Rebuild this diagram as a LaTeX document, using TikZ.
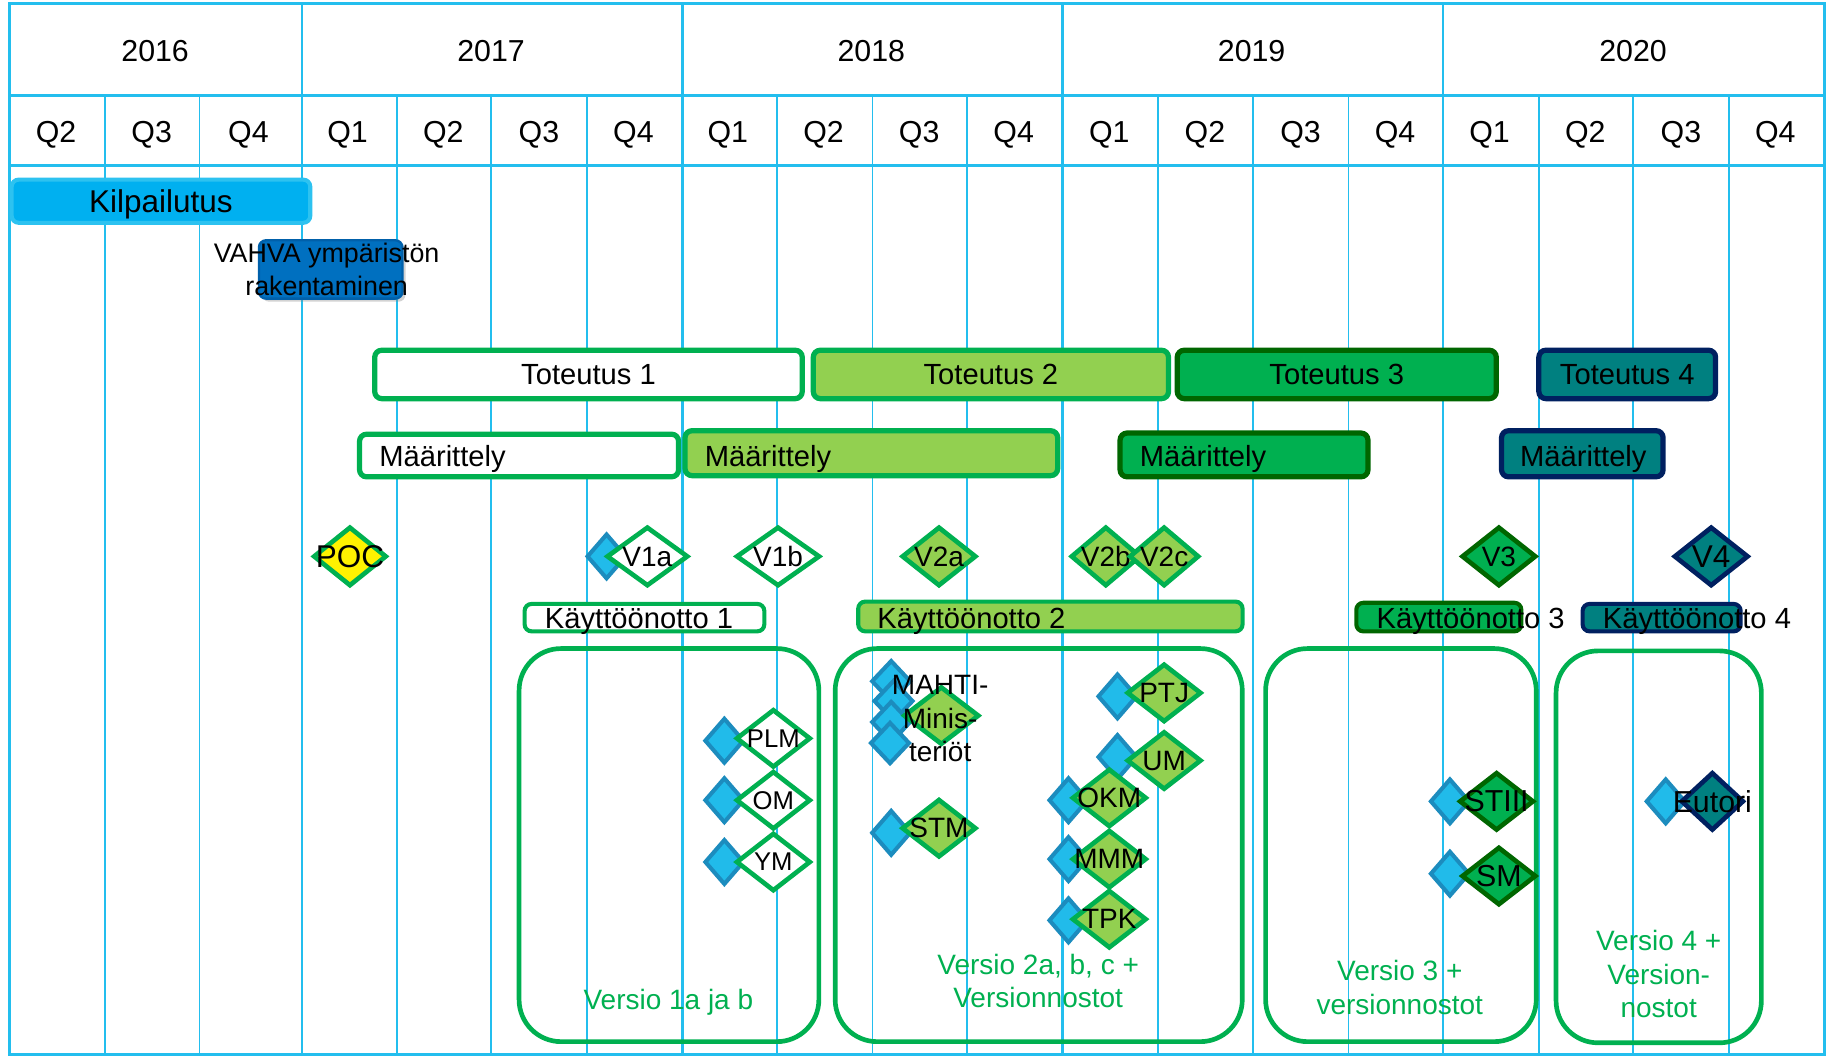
\documentclass[tikz,border=0pt]{standalone}
\usepackage{fontspec}
\setmainfont{Liberation Sans}
\usetikzlibrary{shapes.geometric,shadows}

\definecolor{gridblue}{RGB}{35,190,238}
\definecolor{kilblue}{RGB}{0,176,240}
\definecolor{kilrim}{RGB}{45,194,240}
\definecolor{vahvablue}{RGB}{0,112,192}
\definecolor{vahvarim}{RGB}{0,96,170}
\definecolor{grn}{RGB}{0,176,80}
\definecolor{lgrn}{RGB}{146,208,80}
\definecolor{dgrn}{RGB}{0,102,0}
\definecolor{tealc}{RGB}{0,128,128}
\definecolor{navyc}{RGB}{0,32,96}
\definecolor{msblue}{RGB}{33,187,234}
\definecolor{msrim}{RGB}{28,140,190}

\newcommand{\gm}[1]{\makebox[0pt]{#1}}

\tikzset{
  t22/.style={font=\fontsize{22}{27}\selectfont, text depth=0pt},
  t24/.style={font=\fontsize{24}{29}\selectfont, text depth=0pt},
  t25/.style={font=\fontsize{25}{29}\selectfont, text depth=0pt},
  t26/.style={font=\fontsize{26}{29}\selectfont, text depth=0pt},
  t27/.style={font=\fontsize{27}{29}\selectfont, text depth=0pt},
  bar/.style={draw, rounded corners=6pt, line width=4.5pt, inner sep=0pt},
  kbar/.style={bar, line width=3.5pt},
  v1/.style={fill=white, draw=grn},
  v2/.style={fill=lgrn, draw=grn},
  v3/.style={fill=grn, draw=dgrn},
  v4/.style={fill=tealc, draw=navyc},
  gem/.style={diamond, line width=4pt, inner sep=0pt, minimum width=64pt, minimum height=51pt, t24},
  mgem/.style={gem, minimum width=64pt, minimum height=50pt},
  bluegem/.style={diamond, fill=msblue, draw=msrim, line width=3.5pt, inner sep=0pt, minimum width=34pt, minimum height=39pt},
  lbl/.style={inner sep=0pt, anchor=west, t25},
  vbox/.style={draw=grn, line width=4pt, rounded corners=36pt, inner sep=0pt},
  vtxt/.style={inner sep=0pt, text=grn, align=center, font=\fontsize{24}{29}\selectfont}
}

\begin{document}
\begin{tikzpicture}[x=1pt,y=-1pt,
  gline/.style={draw=gridblue,line width=1.6pt},
  hline/.style={draw=gridblue,line width=2.2pt}]
\useasboundingbox (0,0) rectangle (1568,905);

% grid
\foreach \x in {90,171,340,421,503,666,748,829,993,1074,1156,1319,1400,1482}
  \draw[gline] (\x,82) -- (\x,904);
\foreach \x in {259,585,911,1237}
  \draw[hline] (\x,3) -- (\x,904);
\draw[hline] (8,82) -- (1564,82);
\draw[hline] (8,142) -- (1564,142);
\draw[hline] (8,3) rectangle (1564,904);

% years and quarters
\node[t26] (y16) at (133,44) {2016};
\node[t26] (y17) at (421,44) {2017};
\node[t26] (y18) at (747,44) {2018};
\node[t26] (y19) at (1073,44) {2019};
\node[t26] (y20) at (1400,44) {2020};
\foreach \x/\q [count=\i] in {48/Q2,130/Q3,213/Q4,298/Q1,380/Q2,462/Q3,543/Q4,624/Q1,706/Q2,788/Q3,869/Q4,951/Q1,1033/Q2,1115/Q3,1196/Q4,1277/Q1,1359/Q2,1441/Q3,1522/Q4}
  \node[t26] (q\i) at (\x,113) {\q};

% version boxes
\node[vbox, minimum width=257pt, minimum height=337pt] (B1) at (573.5,724.5) {};
\node[vbox, minimum width=349pt, minimum height=337pt] (B2) at (890.5,724.5) {};
\node[vbox, minimum width=232pt, minimum height=337pt] (B3) at (1201,724.5) {};
\node[vbox, minimum width=176pt, minimum height=336pt] (B4) at (1422,726) {};

% bars
\node[bar, fill=kilblue, draw=kilrim, line width=3.5pt, minimum width=256pt, minimum height=37pt, t27] (kil) at (138,172.5) {Kilpailutus};
\node[bar, fill=vahvablue, draw=vahvarim, line width=2pt, drop shadow={opacity=0.35}, minimum width=123pt, minimum height=50pt] (vahva) at (283.5,231) {};
\node[inner sep=0pt, align=center, font=\fontsize{23}{28}\selectfont] (vahvaT) at (280,231) {VAHVA ympäristön\\rakentaminen};

\node[bar, v1, minimum width=366.5pt, minimum height=41.5pt, t25] (T1) at (504.5,321) {Toteutus 1};
\node[bar, v2, minimum width=304.5pt, minimum height=41.5pt, t25] (T2) at (849.5,321) {Toteutus 2};
\node[bar, v3, minimum width=273.5pt, minimum height=41.5pt, t25] (T3) at (1146,321) {Toteutus 3};
\node[bar, v4, minimum width=151.5pt, minimum height=41.5pt, t25] (T4) at (1395,321) {Toteutus 4};

\node[bar, v1, minimum width=273.5pt, minimum height=36.5pt] (M1) at (445,390.5) {};
\node[bar, v2, minimum width=319.5pt, minimum height=38.5pt] (M2) at (747,388.5) {};
\node[bar, v3, minimum width=212.5pt, minimum height=37.5pt] (M3) at (1066.5,390) {};
\node[bar, v4, minimum width=138.5pt, minimum height=39.5pt] (M4) at (1356.5,389) {};
\node[lbl] (M1T) at (325,391) {Määrittely};
\node[lbl] (M2T) at (604,391) {Määrittely};
\node[lbl] (M3T) at (977,391) {Määrittely};
\node[lbl] (M4T) at (1303,391) {Määrittely};

\node[kbar, v1, minimum width=205.5pt, minimum height=23.5pt] (K1) at (552.5,529.5) {};
\node[kbar, v2, minimum width=329.5pt, minimum height=25.5pt] (K2) at (900.5,528.5) {};
\node[kbar, v3, minimum width=141.5pt, minimum height=24.5pt] (K3) at (1233.5,529) {};
\node[kbar, v4, minimum width=135.5pt, minimum height=23.5pt] (K4) at (1424.5,529.5) {};
\node[lbl] (K1T) at (467,530) {Käyttöönotto 1};
\node[lbl] (K2T) at (752,530) {Käyttöönotto 2};
\node[lbl] (K3T) at (1180,530) {Käyttöönotto 3};
\node[lbl] (K4T) at (1374,530) {Käyttöönotto 4};

% milestones
\node[gem, fill=yellow, draw=grn, minimum width=63pt, t27] (poc) at (300,477) {\gm{POC}};
\node[bluegem] (v1aB) at (520,477) {};
\node[gem, v1, minimum width=70pt] (v1a) at (555,477) {\gm{V1a}};
\node[gem, v1, minimum width=72pt] (v1b) at (667,477) {\gm{V1b}};
\node[gem, v2] (v2a) at (805,477) {\gm{V2a}};
\node[gem, v2, minimum width=60pt] (v2b) at (948,477) {\gm{V2b}};
\node[gem, v2, minimum width=60pt] (v2c) at (998,477) {\gm{V2c}};
\node[gem, v3] (v3) at (1285,477) {\gm{V3}};
\node[gem, v4, t27] (v4) at (1467,477) {\gm{V4}};

% version 1
\node[bluegem] (plmB) at (621,635) {};
\node[mgem, v1, t22] (plm) at (663,633) {\gm{PLM}};
\node[bluegem] (omB) at (621,686) {};
\node[mgem, v1, t22] (om) at (663,686) {\gm{OM}};
\node[bluegem] (ymB) at (621,739) {};
\node[mgem, v1, t22] (ym) at (663,739) {\gm{YM}};

% version 2
\foreach \x/\y [count=\i] in {764/584,766/601,764/619,763/637}
  \node[bluegem, minimum height=36pt] (mahB\i) at (\x,\y) {};
\node[mgem, v2, minimum width=65pt] (mah) at (807,613.5) {};
\node[inner sep=0pt, align=center, font=\fontsize{24}{28.5}\selectfont] (mahT) at (806,616) {MAHTI-\\Minis-\\teriöt};
\node[bluegem] (stmB) at (764,714) {};
\node[mgem, v2] (stm) at (805,710) {\gm{STM}};
\node[bluegem] (ptjB) at (958,597) {};
\node[mgem, v2] (ptj) at (998,594) {\gm{PTJ}};
\node[bluegem] (umB) at (958,649) {};
\node[mgem, v2] (um) at (998,652) {\gm{UM}};
\node[bluegem] (okmB) at (916,686) {};
\node[mgem, v2] (okm) at (951,684) {\gm{OKM}};
\node[bluegem] (mmmB) at (916,736.5) {};
\node[mgem, v2] (mmm) at (951,736.5) {\gm{MMM}};
\node[bluegem] (tpkB) at (916,789) {};
\node[mgem, v2] (tpk) at (951,788) {\gm{TPK}};

% version 3 and 4
\node[bluegem] (stiB) at (1243,687) {};
\node[mgem, v3, t26] (sti) at (1283,687) {\gm{STIII}};
\node[bluegem] (smB) at (1243,749) {};
\node[mgem, v3, t26] (sm) at (1285,751) {\gm{SM}};
\node[bluegem] (eutB) at (1428,687) {};
\node[mgem, v4, minimum width=54pt, t26] (eut) at (1468,687) {\gm{Eutori}};

% version labels
\node[vtxt] (B1T) at (573,859) {Versio 1a ja b};
\node[vtxt] (B2T) at (890,841) {Versio 2a, b, c +\\Versionnostot};
\node[vtxt] (B3T) at (1200,846.5) {Versio 3 +\\versionnostot};
\node[vtxt] (B4T) at (1422,835) {Versio 4 +\\Version-\\nostot};
\end{tikzpicture}
\end{document}
